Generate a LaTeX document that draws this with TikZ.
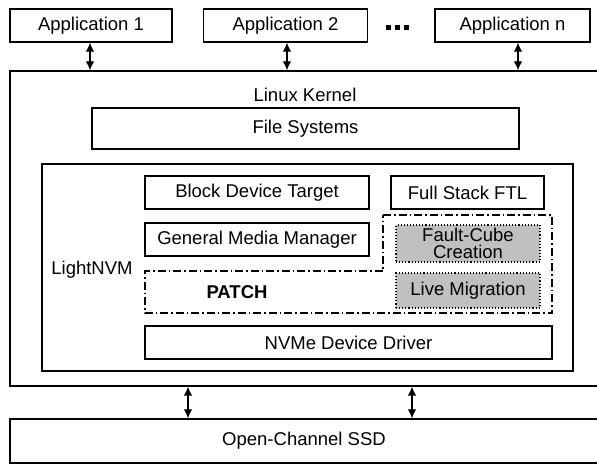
\documentclass[tikz,border=0pt]{standalone}
\usepackage{fontspec}
\setmainfont{Liberation Sans}
\usetikzlibrary{arrows.meta}
\definecolor{cubegray}{RGB}{192,192,192}
\tikzset{
  box/.style={draw, line width=1.3pt, inner sep=0pt, anchor=center},
  graybox/.style={draw, line width=1.1pt, dotted, fill=cubegray, inner sep=0pt, align=center},
  dashdot/.style={line width=1.2pt, dash pattern=on 8pt off 3pt on 1.5pt off 3pt},
  biarrow/.style={line width=1.2pt, {Latex[length=9pt,width=8.5pt]}-{Latex[length=9pt,width=8.5pt]}},
  lbl/.style={inner sep=0pt}
}
\begin{document}
\begin{tikzpicture}[x=1pt,y=-1pt,font=\fontsize{18.5}{18.5}\selectfont]
\useasboundingbox (0,0) rectangle (597,464);
% applications
\node[box, minimum width=162pt, minimum height=33pt] (app1) at (91,25.5) {Application 1};
\node[box, minimum width=164pt, minimum height=33pt] (app2) at (285.5,25.5) {Application 2};
\node[box, minimum width=155pt, minimum height=33pt] (appn) at (512.5,25.5) {Application n};
\foreach \x in {386,395,404} \fill (\x,25) rectangle ++(4.5,4.5);
% kernel
\node[box, minimum width=588pt, minimum height=315pt] (kernel) at (304,228.5) {};
\node[lbl] (kerneltxt) at (305,95) {Linux Kernel};
\node[box, minimum width=427pt, minimum height=41pt] (fs) at (305.5,128.5) {File Systems};
% lightnvm
\node[box, minimum width=531pt, minimum height=207pt] (lnvm) at (307.5,267.5) {};
\node[lbl] (lnvmtxt) at (92,270) {LightNVM};
\node[box, minimum width=224pt, minimum height=33pt] (bdt) at (257,192.5) {Block Device Target};
\node[box, minimum width=153pt, minimum height=33pt] (fsftl) at (467.5,192.5) {Full Stack FTL};
\node[box, minimum width=224pt, minimum height=33pt] (gmm) at (257,239.5) {General Media Manager};
% patch region
\coordinate (p1) at (383,215);
\coordinate (p2) at (552,215);
\coordinate (p3) at (552,313);
\coordinate (p4) at (145,313);
\coordinate (p5) at (145,271);
\coordinate (p6) at (383,271);
\draw[dashdot] (p1) -- (p2) -- (p3) -- (p4) -- (p5) -- (p6) -- cycle;
\node[lbl, font=\fontsize{18.5}{18.5}\selectfont\bfseries] (patch) at (237,292) {PATCH};
\node[graybox, minimum width=144pt, minimum height=37pt, font=\fontsize{18.5}{17.5}\selectfont] (fcc) at (468,243.5) {Fault-Cube\\Creation};
\node[graybox, minimum width=144pt, minimum height=35pt] (lm) at (468,290.5) {Live Migration};
\node[box, minimum width=407pt, minimum height=33pt] (nvme) at (348.5,342.5) {NVMe Device Driver};
% ssd
\node[box, minimum width=588pt, minimum height=44pt] (ssd) at (304,441) {Open-Channel SSD};
% arrows
\draw[biarrow] (app1.south -| 90,0) -- (kernel.north -| 90,0);
\draw[biarrow] (app2.south -| 287,0) -- (kernel.north -| 287,0);
\draw[biarrow] (appn.south -| 518,0) -- (kernel.north -| 518,0);
\draw[biarrow] (kernel.south -| 188,0) -- (ssd.north -| 188,0);
\draw[biarrow] (kernel.south -| 412,0) -- (ssd.north -| 412,0);
\end{tikzpicture}
\end{document}
